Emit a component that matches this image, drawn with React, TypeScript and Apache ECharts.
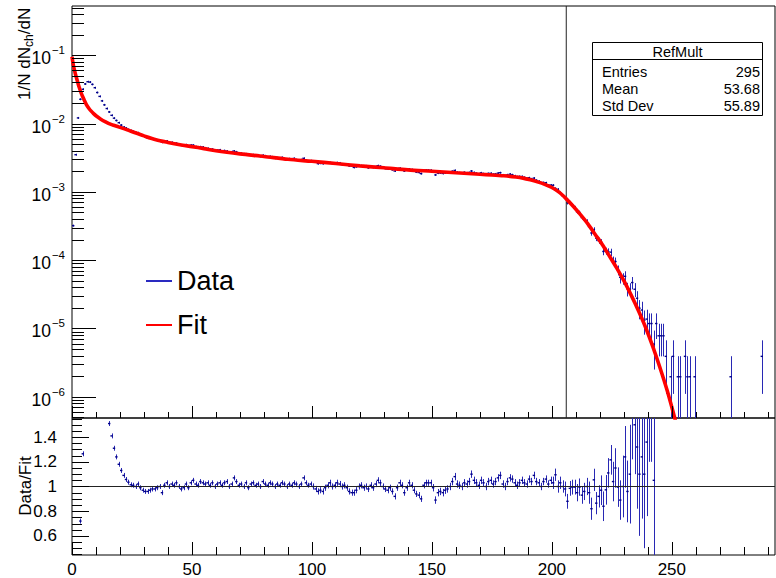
import React, { useEffect, useRef } from "react";
import * as echarts from "echarts";

const FONT = "'Liberation Sans', Arial, Helvetica, sans-serif";

// ---------- axis ranges and ticks ----------
const xRange = [0, 293];
const topYRange = [4.88e-7, 0.527];
const ratioRange = [0.445, 1.555];
const xMajorTicks = [0, 50, 100, 150, 200, 250];
const xMinorTicks = [10, 20, 30, 40, 60, 70, 80, 90, 110, 120, 130, 140, 160, 170, 180, 190, 210, 220, 230, 240, 260, 270, 280, 290];
const logDecadeTicks = [1e-6, 1e-5, 1e-4, 1e-3, 1e-2, 1e-1];
const logMinorBases = [1e-7, 1e-6, 1e-5, 1e-4, 1e-3, 1e-2, 1e-1];
const logMinorMultipliers = [2, 3, 4, 5, 6, 7, 8, 9];
const ratioMajorTicks = [0.6, 0.8, 1, 1.2, 1.4];
const ratioMinorTicks = [0.45, 0.5, 0.55, 0.65, 0.7, 0.75, 0.85, 0.9, 0.95, 1.05, 1.1, 1.15, 1.25, 1.3, 1.35, 1.45, 1.5, 1.55];
const cutLineX = [206];
const ratioRefLine = [1];

// ---------- data: 1/N dN/dRefMult per bin (bins 0..247) ----------
const dataY = [
  3.2e-4, 3.5e-3, 0.0121, 0.0227, 0.0318, 0.038, 0.041, 0.0405, 0.0375, 0.0335,
  0.0285, 0.025, 0.0215, 0.0188, 0.0166, 0.0148, 0.0132, 0.012, 0.0111, 0.0103,
  0.0095, 0.0089, 0.0086, 0.0082, 0.0079, 0.00768, 0.0074, 0.00734, 0.00693, 0.0066,
  0.00634, 0.00614, 0.00611, 0.00598, 0.00588, 0.00574, 0.0057, 0.00532, 0.00556, 0.00556,
  0.0053, 0.0053, 0.00515, 0.00515, 0.005, 0.0048, 0.00475, 0.0049, 0.00465, 0.00484,
  0.00483, 0.00459, 0.00455, 0.00458, 0.00453, 0.00439, 0.00433, 0.00424, 0.00422, 0.0041,
  0.00408, 0.00412, 0.00394, 0.00402, 0.00395, 0.0038, 0.00388, 0.00396, 0.00385, 0.00364,
  0.00367, 0.0036, 0.0036, 0.00347, 0.00347, 0.0035, 0.00343, 0.00347, 0.0033, 0.00343,
  0.00337, 0.00323, 0.0033, 0.00326, 0.0031, 0.00316, 0.00313, 0.00319, 0.00306, 0.003,
  0.00306, 0.00303, 0.00309, 0.00296, 0.0029, 0.00296, 0.0031, 0.00288, 0.00283, 0.00286,
  0.0028, 0.00274, 0.00259, 0.00262, 0.00259, 0.00267, 0.00273, 0.00268, 0.0026, 0.00263,
  0.00268, 0.00265, 0.0025, 0.00253, 0.00248, 0.0024, 0.00238, 0.00228, 0.00233, 0.0024,
  0.00242, 0.00238, 0.0024, 0.00225, 0.00232, 0.00228, 0.00235, 0.00242, 0.00237, 0.00226,
  0.0022, 0.00216, 0.00218, 0.00211, 0.00202, 0.00215, 0.00222, 0.00216, 0.00202, 0.00209,
  0.00216, 0.00212, 0.00202, 0.00195, 0.00192, 0.00185, 0.00206, 0.00209, 0.00208, 0.00207,
  0.00198, 0.00177, 0.00188, 0.00189, 0.00186, 0.00189, 0.0019, 0.00193, 0.002, 0.00206,
  0.00194, 0.00191, 0.00188, 0.00193, 0.0019, 0.00192, 0.00202, 0.00192, 0.00187, 0.00184,
  0.0019, 0.00185, 0.0018, 0.00186, 0.00187, 0.00181, 0.00183, 0.00188, 0.00191, 0.00177,
  0.00173, 0.00178, 0.00182, 0.00178, 0.00172, 0.00167, 0.00168, 0.00168, 0.00163, 0.00158,
  0.00161, 0.00155, 0.00159, 0.00148, 0.00143, 0.00136, 0.00137, 0.00136, 0.00126, 0.00126,
  0.00125, 0.00112, 0.00109, 0.00097, 0.00088, 0.00082, 0.00069, 0.0007, 0.00065, 0.00059,
  0.00051, 0.0005, 0.00042, 0.00039, 0.00037, 0.00031, 0.00025, 0.00028, 0.00021, 0.000193,
  0.000184, 0.000134, 0.000136, 0.000133, 0.000131, 0.0000988, 0.0000955, 0.0000716, 0.000056, 0.000054,
  0.000058, 0.000038, 0.0000374, 0.000047, 0.0000375, 0.0000277, 0.0000198, 0.0000186, 0.0000132, 0.0000137,
  0.0000118, 0.0000118, 0.0000059, 0.0000118, 0.0000078, 0.0000078, 0.0000078, 0.0000039,
];
// statistical errors of bins 200..247 (smaller bins: error bars hidden under the marker)
const dataErrTail = [
  4.95e-5, 4.7e-5, 4.6e-5, 4.4e-5, 4.2e-5, 4.0e-5, 3.7e-5, 3.7e-5, 3.5e-5, 3.4e-5,
  3.2e-5, 3.1e-5, 2.9e-5, 2.8e-5, 2.7e-5, 2.5e-5, 2.2e-5, 2.3e-5, 2.0e-5, 1.96e-5,
  1.9e-5, 1.6e-5, 1.6e-5, 1.6e-5, 1.6e-5, 1.4e-5, 1.36e-5, 1.19e-5, 1.05e-5, 1.03e-5,
  1.07e-5, 8.6e-6, 8.5e-6, 9.6e-6, 8.6e-6, 7.4e-6, 6.2e-6, 6.0e-6, 5.1e-6, 5.1e-6,
  4.8e-6, 4.8e-6, 3.4e-6, 4.8e-6, 3.9e-6, 3.9e-6, 3.9e-6, 2.8e-6,
];
// sparse tail bins (1-2 entries)
const sparseBins = [249, 250, 252, 253, 255, 256, 257, 259, 274, 287];
const sparseY = [1.96e-6, 3.9e-6, 1.96e-6, 1.96e-6, 3.9e-6, 1.96e-6, 1.96e-6, 1.96e-6, 1.96e-6, 3.9e-6];
const sparseErr = [1.96e-6, 2.8e-6, 1.96e-6, 1.96e-6, 2.8e-6, 1.96e-6, 1.96e-6, 1.96e-6, 1.96e-6, 2.8e-6];

// ---------- Data / Fit ratio per bin (bins 0..242) ----------
const ratioY = [
  0.0034, 0.057, 0.27, 0.72, 1.265, 1.7, 2.1, 2.3, 2.4, 2.3,
  2.15, 2.0, 1.8, 1.7, 1.6, 1.51, 1.41, 1.31, 1.24, 1.18,
  1.13, 1.09, 1.057, 1.035, 1.014, 1.01, 1.0, 1.02, 0.99, 0.97,
  0.96, 0.96, 0.97, 0.98, 0.98, 0.99, 1.0, 0.95, 1.01, 1.03,
  1.0, 1.02, 1.01, 1.03, 1.0, 0.98, 0.99, 1.02, 0.99, 1.03,
  1.05, 1.02, 1.01, 1.04, 1.03, 1.02, 1.03, 1.01, 1.03, 1.0,
  1.02, 1.03, 1.01, 1.03, 1.04, 1.0, 1.02, 1.07, 1.04, 1.01,
  1.02, 1.0, 1.03, 0.99, 1.02, 1.03, 1.01, 1.02, 1.0, 1.04,
  1.02, 1.01, 1.03, 1.02, 1.0, 1.02, 1.01, 1.03, 1.02, 1.0,
  1.02, 1.01, 1.03, 1.02, 1.0, 1.02, 1.07, 1.03, 1.01, 1.02,
  1.0, 0.98, 0.96, 0.97, 0.96, 0.99, 1.01, 1.03, 1.0, 1.01,
  1.03, 1.02, 1.0, 1.01, 0.99, 0.96, 0.95, 0.95, 0.97, 1.0,
  1.01, 0.99, 1.0, 0.98, 1.01, 0.99, 1.02, 1.05, 1.03, 1.0,
  0.98, 0.97, 0.99, 0.96, 0.92, 0.99, 1.03, 1.01, 0.95, 0.99,
  1.03, 1.01, 0.97, 0.94, 0.93, 0.9, 1.01, 1.03, 1.03, 1.03,
  0.99, 0.89, 0.95, 0.96, 0.95, 0.97, 0.98, 1.0, 1.04, 1.08,
  1.02, 1.01, 1.0, 1.03, 1.02, 1.04, 1.1, 1.05, 1.03, 1.01,
  1.05, 1.03, 1.0, 1.04, 1.05, 1.02, 1.04, 1.07, 1.09, 1.02,
  1.0, 1.04, 1.07, 1.06, 1.03, 1.01, 1.03, 1.05, 1.03, 1.02,
  1.06, 1.04, 1.09, 1.04, 1.03, 1.0, 1.04, 1.06, 1.02, 1.05,
  1.03, 1.095, 1.0, 1.03, 1.0, 0.98, 0.88, 0.985, 0.995, 0.995,
  0.95, 0.995, 0.93, 0.96, 1.0, 0.95, 0.82, 1.054, 0.865, 0.92,
  0.97, 0.84, 0.973, 1.11, 1.216, 1.04, 1.15, 0.995, 0.89, 1.0,
  1.24, 0.96, 1.1, 1.62, 1.5, 1.32, 1.1, 1.24, 1.1, 1.36,
  1.8, 2.0, 1.05,
];
const ratioErrBandEnd = [99, 149, 199];
const ratioErrBandVal = [0.02, 0.025, 0.03];
// errors of ratio bins 200..242
const ratioErrTail = [
  0.05, 0.05, 0.05, 0.05, 0.05, 0.06, 0.06, 0.06, 0.06, 0.06,
  0.07, 0.07, 0.07, 0.07, 0.07, 0.09, 0.09, 0.09, 0.09, 0.09,
  0.12, 0.12, 0.12, 0.12, 0.12, 0.16, 0.16, 0.16, 0.16, 0.25,
  0.25, 0.25, 0.4, 0.4, 0.4, 0.5, 0.5, 0.5, 0.6, 0.6,
  0.6, 0.8, 1.2,
];

// ---------- fit curve ----------
const fitX = [0, 0.5, 1, 1.5, 2, 2.5, 3, 4, 5, 6, 7, 8, 9, 10, 12, 14, 16, 18, 20, 23, 26, 30, 35, 40, 45, 50, 55, 60, 70, 80, 90, 100, 110, 120, 130, 140, 150, 160, 170, 175, 180, 185, 188, 191, 194, 197, 200, 203, 206, 209, 212, 215, 218, 221, 224, 227, 230, 233, 236, 239, 242, 245, 248, 251, 253];
const fitY = [0.095, 0.074, 0.061, 0.052, 0.045, 0.039, 0.034, 0.027, 0.0225, 0.019, 0.0168, 0.0152, 0.014, 0.013, 0.0116, 0.0106, 0.0098, 0.0093, 0.0088, 0.0081, 0.0074, 0.0066, 0.0058, 0.0053, 0.0049, 0.0046, 0.0043, 0.004, 0.0036, 0.0033, 0.003, 0.0028, 0.0026, 0.0024, 0.00225, 0.0021, 0.002, 0.0019, 0.00181, 0.00177, 0.00172, 0.00165, 0.00159, 0.0015, 0.0014, 0.00129, 0.00116, 0.00099, 0.00079, 0.00061, 0.00046, 0.00034, 0.00024, 0.00017, 0.000115, 0.000077, 0.00005, 0.000031, 0.0000185, 0.0000105, 0.0000055, 0.0000027, 0.00000125, 0.00000052, 0.00000028];

// ---------- stats box ----------
const statsTitle = "RefMult";
const statsNames = ["Entries", "Mean", "Std Dev"];
const statsValues = ["295", "53.68", "55.89"];

const DATA_MARK = "#000088";
const DATA_BAR = "#2828b4";

function makeErrRender(isLog: boolean) {
  return (params: any, api: any) => {
    const x = api.value(0);
    const y = api.value(1);
    const e = api.value(2);
    const cs = params.coordSys;
    const top = cs.y;
    const bot = cs.y + cs.height;
    const c = api.coord([x, y]);
    const xl = api.coord([x - 0.5, y])[0];
    const xr = api.coord([x + 0.5, y])[0];
    const xm = Math.round(c[0]) + 0.5;
    let yHi = c[1] - 1;
    let yLo = c[1] + 1;
    if (e > 0) {
      yHi = api.coord([x, y + e])[1];
      yLo = isLog && y - e <= 0 ? bot + 5 : api.coord([x, y - e])[1];
    }
    const y1 = Math.max(Math.min(yHi, yLo), top);
    const y2 = Math.min(Math.max(yHi, yLo), bot);
    const children: any[] = [];
    if (y2 > y1) {
      children.push({ type: "line", shape: { x1: xm, y1, x2: xm, y2 }, style: { stroke: DATA_BAR, lineWidth: 1 } });
    }
    if (c[1] >= top && c[1] <= bot) {
      children.push({ type: "line", shape: { x1: xl, y1: c[1], x2: xr, y2: c[1] }, style: { stroke: DATA_MARK, lineWidth: 1.4 } });
    }
    return { type: "group", children };
  };
}

function makeTickRender(yRef: number) {
  return (params: any, api: any) => {
    const kind = api.value(0);
    const v = api.value(1);
    const len = api.value(2);
    const cs = params.coordSys;
    if (kind === 0) {
      const px = Math.round(api.coord([v, yRef])[0]) + 0.5;
      const b = cs.y + cs.height;
      return { type: "line", shape: { x1: px, y1: b, x2: px, y2: b - len }, style: { stroke: "#000", lineWidth: 1 } };
    }
    const py = Math.round(api.coord([xRange[0], v])[1]) + 0.5;
    return { type: "line", shape: { x1: cs.x, y1: py, x2: cs.x + len, y2: py }, style: { stroke: "#000", lineWidth: 1 } };
  };
}

export default function App() {
  const ref = useRef<HTMLDivElement>(null);
  useEffect(() => {
    if (!ref.current) return;
    const chart = echarts.init(ref.current, null, { renderer: "svg" });

    const dataItems: number[][] = [];
    dataY.forEach((v, i) => {
      const err = i >= 200 ? dataErrTail[i - 200] : 0;
      dataItems.push([i + 0.5, v, err]);
    });
    sparseBins.forEach((b, i) => dataItems.push([b + 0.5, sparseY[i], sparseErr[i]]));

    const ratioItems: number[][] = ratioY.map((v, i) => {
      let err = 0;
      if (i >= 200) err = ratioErrTail[i - 200];
      else {
        const k = ratioErrBandEnd.findIndex((end) => i <= end);
        err = ratioErrBandVal[k];
      }
      return [i + 0.5, v, err];
    });

    const logMinor: number[] = [];
    logMinorBases.forEach((b) =>
      logMinorMultipliers.forEach((m) => {
        const v = b * m;
        if (v > topYRange[0] && v < topYRange[1]) logMinor.push(v);
      })
    );
    const topTicks = [
      ...xMajorTicks.map((v) => [0, v, 12]),
      ...xMinorTicks.map((v) => [0, v, 6]),
      ...logDecadeTicks.map((v) => [1, v, 24]),
      ...logMinor.map((v) => [1, v, 12]),
    ];
    const botTicks = [
      ...xMajorTicks.map((v) => [0, v, 13]),
      ...xMinorTicks.map((v) => [0, v, 8]),
      ...ratioMajorTicks.map((v) => [1, v, 17]),
      ...ratioMinorTicks.map((v) => [1, v, 10]),
    ];

    const hidden = { show: false };
    const option: any = {
      animation: false,
      backgroundColor: "#ffffff",
      textStyle: { fontFamily: FONT },
      grid: [
        { left: 72, top: 6, width: 703, height: 412, show: true, borderColor: "#000", borderWidth: 1, backgroundColor: "transparent", outerBoundsMode: "none" },
        { left: 72, top: 418, width: 703, height: 137, show: true, borderColor: "#000", borderWidth: 1, backgroundColor: "transparent", outerBoundsMode: "none" },
      ],
      xAxis: [
        { type: "value", gridIndex: 0, min: xRange[0], max: xRange[1], axisLine: hidden, axisTick: hidden, splitLine: hidden, axisLabel: hidden },
        {
          type: "value", gridIndex: 1, min: xRange[0], max: xRange[1], interval: 50,
          axisLine: hidden, axisTick: hidden, splitLine: hidden,
          axisLabel: { show: true, fontSize: 17, color: "#000", margin: 6, fontFamily: FONT, showMaxLabel: false, showMinLabel: true },
        },
      ],
      yAxis: [
        {
          type: "log", logBase: 10, gridIndex: 0, min: topYRange[0], max: topYRange[1],
          axisLine: hidden, axisTick: hidden, splitLine: hidden, minorTick: hidden,
          axisLabel: {
            show: true, margin: 7, showMinLabel: false, showMaxLabel: false,
            formatter: (v: number) => {
              const e = Math.round(Math.log10(v));
              return `{b|10}{s|${e < 0 ? "\u2212" : ""}${Math.abs(e)}}`;
            },
            rich: {
              b: { fontSize: 17.5, fontFamily: FONT, color: "#000", lineHeight: 18, padding: [6, 0, 0, 0] },
              s: { fontSize: 11.5, fontFamily: FONT, color: "#000", lineHeight: 12, padding: [1, 0, 11, 1] },
            },
          },
        },
        {
          type: "value", gridIndex: 1, min: ratioRange[0], max: ratioRange[1],
          axisLine: hidden, axisTick: hidden, splitLine: hidden,
          axisLabel: { show: true, fontSize: 17, color: "#000", margin: 15, fontFamily: FONT, showMinLabel: false, showMaxLabel: false },
        },
      ],
      legend: {
        data: ["Data", "Fit"],
        orient: "vertical",
        left: 141,
        top: 261,
        icon: "rect",
        itemWidth: 26,
        itemHeight: 2,
        itemGap: 14,
        selectedMode: false,
        textStyle: { fontSize: 27, color: "#000", fontFamily: FONT, lineHeight: 30 },
      },
      series: [
        {
          name: "Data", type: "custom", xAxisIndex: 0, yAxisIndex: 0, z: 2,
          itemStyle: { color: "#2a2ac0" },
          renderItem: makeErrRender(true),
          data: dataItems,
          silent: true,
        },
        {
          name: "Fit", type: "line", xAxisIndex: 0, yAxisIndex: 0, z: 4,
          data: fitX.map((x, i) => [x, fitY[i]]),
          showSymbol: false, symbol: "none", smooth: 0.3,
          lineStyle: { color: "#ff0000", width: 3.6 },
          itemStyle: { color: "#ff0000" },
          silent: true,
        },
        {
          name: "cut", type: "line", xAxisIndex: 0, yAxisIndex: 0, z: 3,
          data: [[cutLineX[0], topYRange[0]], [cutLineX[0], topYRange[1]]],
          showSymbol: false, symbol: "none",
          lineStyle: { color: "#222", width: 1 },
          silent: true,
        },
        {
          name: "Data/Fit", type: "custom", xAxisIndex: 1, yAxisIndex: 1, z: 2,
          itemStyle: { color: "#2a2ac0" },
          renderItem: makeErrRender(false),
          data: ratioItems,
          silent: true,
        },
        {
          name: "unity", type: "line", xAxisIndex: 1, yAxisIndex: 1, z: 3,
          data: [[xRange[0], ratioRefLine[0]], [xRange[1], ratioRefLine[0]]],
          showSymbol: false, symbol: "none",
          lineStyle: { color: "#222", width: 1.2 },
          silent: true,
        },
        {
          name: "ticksTop", type: "custom", xAxisIndex: 0, yAxisIndex: 0, z: 6,
          renderItem: makeTickRender(1e-3), data: topTicks, silent: true,
        },
        {
          name: "ticksBottom", type: "custom", xAxisIndex: 1, yAxisIndex: 1, z: 6,
          renderItem: makeTickRender(1), data: botTicks, silent: true,
        },
      ],
      graphic: {
        elements: [
          { type: "text", x: 24, y: 100, rotation: Math.PI / 2, style: { text: "1/N dN", fontSize: 17, fontFamily: FONT, fill: "#000", align: "left", verticalAlign: "middle" } },
          { type: "text", x: 29, y: 47, rotation: Math.PI / 2, style: { text: "ch", fontSize: 12, fontFamily: FONT, fill: "#000", align: "left", verticalAlign: "middle" } },
          { type: "text", x: 24, y: 34.3, rotation: Math.PI / 2, style: { text: "/dN", fontSize: 17, fontFamily: FONT, fill: "#000", align: "left", verticalAlign: "middle" } },
          { type: "text", x: 25, y: 486, rotation: Math.PI / 2, style: { text: "Data/Fit", fontSize: 17, fontFamily: FONT, fill: "#000", align: "center", verticalAlign: "middle" } },
          { type: "rect", shape: { x: 592.5, y: 42.5, width: 170, height: 73 }, style: { fill: "#fff", stroke: "#000", lineWidth: 1 }, z: 10 },
          { type: "line", shape: { x1: 592.5, y1: 59.5, x2: 762.5, y2: 59.5 }, style: { stroke: "#000", lineWidth: 1 }, z: 11 },
          { type: "text", x: 677.5, y: 52, z: 11, style: { text: statsTitle, fontSize: 14.5, fontFamily: FONT, fill: "#000", align: "center", verticalAlign: "middle" } },
          ...statsNames.map((n, i) => ({ type: "text", x: 602, y: 71.5 + i * 17.3, z: 11, style: { text: n, fontSize: 14.5, fontFamily: FONT, fill: "#000", align: "left", verticalAlign: "middle" } })),
          ...statsValues.map((v, i) => ({ type: "text", x: 760, y: 71.5 + i * 17.3, z: 11, style: { text: v, fontSize: 14.5, fontFamily: FONT, fill: "#000", align: "right", verticalAlign: "middle" } })),
        ],
      },
    };
    chart.setOption(option);
    return () => chart.dispose();
  }, []);
  return (
    <div
      ref={ref}
      style={{ position: "fixed", left: 0, top: 0, width: 776, height: 578, background: "#fff" }}
    />
  );
}
